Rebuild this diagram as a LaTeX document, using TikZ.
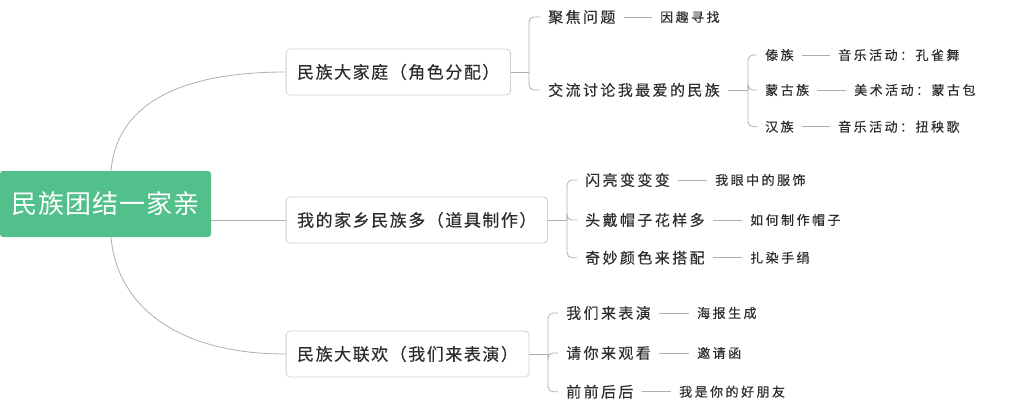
\documentclass[tikz,border=0pt]{standalone}
\usepackage{fontspec}
\setmainfont{Noto Sans CJK SC}
\newfontfamily\cjkR{Noto Sans CJK SC}[LetterSpace=4]
\newfontfamily\cjkA{Noto Sans CJK SC}[LetterSpace=9,FakeBold=0.3]
\newfontfamily\cjkB{Noto Sans CJK SC}[LetterSpace=16,FakeBold=0.3]
\newfontfamily\cjkC{Noto Sans CJK SC}[LetterSpace=19,FakeBold=0.3]
\usetikzlibrary{calc}
\definecolor{rootgreen}{RGB}{82,192,139}
\definecolor{txt}{RGB}{45,45,45}
\definecolor{lnc}{RGB}{175,175,175}
\definecolor{boxline}{RGB}{208,208,208}
\begin{document}
\begin{tikzpicture}[x=1pt,y=-1pt,
  rootnode/.style={fill=rootgreen, rounded corners=3pt, minimum width=211pt, minimum height=66pt, inner sep=0pt, text=white, font=\cjkR\fontsize{26}{30}\selectfont},
  topic/.style={draw=boxline, line width=0.8pt, fill=white, rounded corners=4pt, minimum height=46pt, inner xsep=11pt, anchor=west, text=txt, font=\cjkA\fontsize{17}{20}\selectfont},
  sub/.style={anchor=west, inner xsep=8pt, inner ysep=2pt, text=txt, font=\cjkB\fontsize{15}{18}\selectfont},
  leaf/.style={anchor=west, inner xsep=8pt, inner ysep=2pt, text=txt, font=\cjkC\fontsize{13}{16}\selectfont},
  conn/.style={draw=lnc, line width=0.8pt},
  brk/.style={draw=lnc, line width=0.8pt, rounded corners=5pt}
]
\useasboundingbox (0,0) rectangle (1024,410);

% root
\node[rootnode] (root) at (105.5,204) {民族团结一家亲};

% main topics
\node[topic] (b1) at (285.7,72) {民族大家庭（角色分配）};
\node[topic] (b2) at (285.7,220) {我的家乡民族多（道具制作）};
\node[topic] (b3) at (285.7,354) {民族大联欢（我们来表演）};

\coordinate (r1) at (111,171);
\coordinate (r3) at (111,237);
\draw[conn] (r1) .. controls (116,110) and (170,72) .. (b1.west);
\draw[conn] (root.east |- b2.west) -- (b2.west);
\draw[conn] (r3) .. controls (116,300) and (170,354) .. (b3.west);

% branch 1
\node[sub] (c11) at (540,17) {聚焦问题};
\node[sub] (c12) at (540,90) {交流讨论我最爱的民族};
\node[leaf] (e11) at (652,17) {因趣寻找};
\coordinate (j1) at (529,72);
\draw[conn] (b1.east) -- (j1);
\draw[brk] (j1) |- (c11.west);
\draw[brk] (j1) |- (c12.west);
\draw[conn] (c11.east) -- (e11.west);

\node[leaf] (d1) at (757,55) {傣族};
\node[leaf] (d2) at (757,90) {蒙古族};
\node[leaf] (d3) at (757,126.7) {汉族};
\node[leaf] (f1) at (830,55) {音乐活动：孔雀舞};
\node[leaf] (f2) at (846,90) {美术活动：蒙古包};
\node[leaf] (f3) at (830,126.7) {音乐活动：扭秧歌};
\coordinate (j12) at (748,90);
\draw[conn] (c12.east) -- (j12);
\draw[brk] (j12) |- (d1.west);
\draw[brk] (j12) |- (d2.west);
\draw[brk] (j12) |- (d3.west);
\draw[conn] (d1.east) -- (f1.west);
\draw[conn] (d2.east) -- (f2.west);
\draw[conn] (d3.east) -- (f3.west);

% branch 2
\node[sub] (c21) at (577,180) {闪亮变变变};
\node[sub] (c22) at (577,220) {头戴帽子花样多};
\node[sub] (c23) at (577,257.7) {奇妙颜色来搭配};
\node[leaf] (e21) at (707,180) {我眼中的服饰};
\node[leaf] (e22) at (742,220) {如何制作帽子};
\node[leaf] (e23) at (742,257.7) {扎染手绢};
\coordinate (j2) at (567,220);
\draw[conn] (b2.east) -- (j2);
\draw[brk] (j2) |- (c21.west);
\draw[brk] (j2) |- (c22.west);
\draw[brk] (j2) |- (c23.west);
\draw[conn] (c21.east) -- (e21.west);
\draw[conn] (c22.east) -- (e22.west);
\draw[conn] (c23.east) -- (e23.west);

% branch 3
\node[sub] (c31) at (558,313) {我们来表演};
\node[sub] (c32) at (558,353) {请你来观看};
\node[sub] (c33) at (558,391.7) {前前后后};
\node[leaf] (e31) at (689,313) {海报生成};
\node[leaf] (e32) at (689,353) {邀请函};
\node[leaf] (e33) at (671,391.7) {我是你的好朋友};
\coordinate (j3) at (548,354);
\draw[conn] (b3.east) -- (j3);
\draw[brk] (j3) |- (c31.west);
\draw[brk] (j3) |- (c32.west);
\draw[brk] (j3) |- (c33.west);
\draw[conn] (c31.east) -- (e31.west);
\draw[conn] (c32.east) -- (e32.west);
\draw[conn] (c33.east) -- (e33.west);
\end{tikzpicture}
\end{document}
